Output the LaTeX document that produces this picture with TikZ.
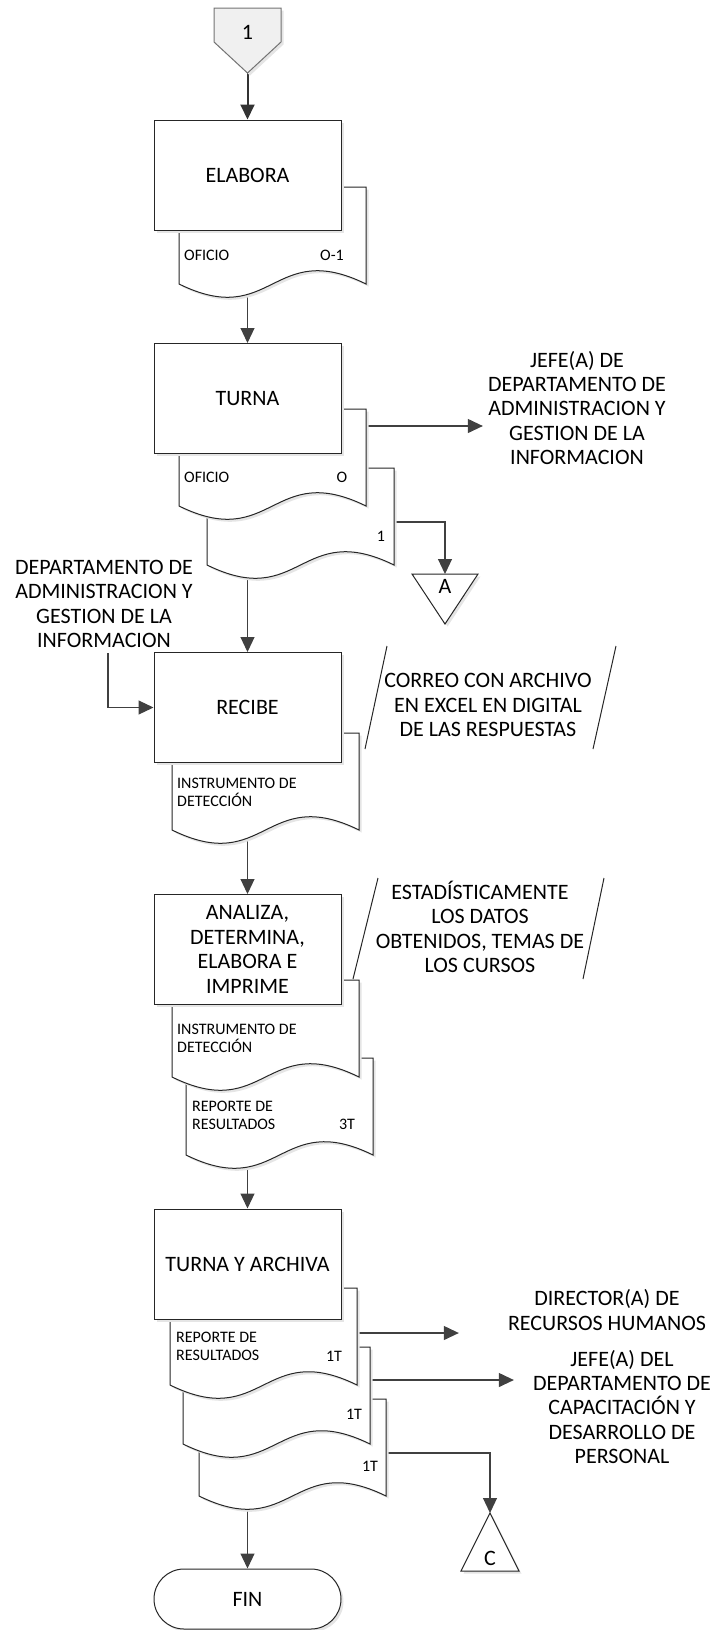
\documentclass[tikz,border=0pt]{standalone}
\usepackage{fontspec}
\setmainfont{Carlito}
\usetikzlibrary{calc, arrows.meta, shadows, backgrounds}

\newcommand{\bigtxt}{\fontsize{22}{24.4}\selectfont}
\newcommand{\smalltxt}{\fontsize{16}{18}\selectfont}
% sheet with wavy bottom, drawn round an empty node
\newcommand{\docsheet}[1]{%
  \draw[docline] (#1.north west) -- (#1.north east) -- (#1.south east)
    .. controls ($(#1.south)+(0,-46)$) and ($(#1.south)+(0,46)$) .. (#1.south west) -- cycle;}

\tikzset{
  softshadow/.style={drop shadow={shadow xshift=2.5pt, shadow yshift=-2.5pt, draw=none, fill=black!10, opacity=1}},
  proc/.style={draw=black!85, fill=white, line width=1pt, minimum width=187pt, minimum height=110pt,
    align=center, font=\bigtxt, softshadow},
  term/.style={proc, rounded corners=30pt, minimum height=60pt},
  docarea/.style={minimum width=187pt, minimum height=97pt, inner sep=0pt, outer sep=0pt},
  docline/.style={draw=black!85, fill=white, line width=1pt, softshadow},
  doctext/.style={font=\smalltxt, inner sep=0pt, align=left},
  bigtext/.style={font=\bigtxt, align=center, inner sep=5pt},
  flow/.style={draw=black!75, line width=1.1pt, -{Triangle[length=15pt,width=14pt]}},
  offpage/.style={draw=black!85, fill=white, line width=1pt, softshadow},
  slash/.style={draw=black!85, line width=1pt}
}

\begin{document}
\begin{tikzpicture}[x=1pt, y=-1pt]
\useasboundingbox (0,0) rectangle (715,1630);

% off-page connector
\draw[offpage, fill=black!6, draw=black!55] (214,8) -- (281,8) -- (281,42) -- (247.5,73) -- (214,42) -- cycle;
\node[bigtext] (pageOne) at (247.5,32) {1};
\coordinate (pageOneTip) at (247.5,73);

% process boxes
\node[proc] (elabora) at (247.5,175) {ELABORA};
\node[proc] (turna) at (247.5,398.5) {TURNA};
\node[proc] (recibe) at (247.5,707.5) {RECIBE};
\node[proc] (analiza) at (247.5,949.5) {ANALIZA,\\DETERMINA,\\ELABORA E\\IMPRIME};
\node[proc] (archiva) at (247.5,1264) {TURNA Y ARCHIVA};
\node[term] (fin) at (247.5,1599) {FIN};

% document sheets
\node[docarea, anchor=north west] (dOficio) at (179,187) {};
\node[docarea, anchor=north west] (dTurOrig) at (179,409) {};
\node[docarea, anchor=north west] (dTurCopy) at (207,468) {};
\node[docarea, anchor=north west] (dRecibe) at (172,733) {};
\node[docarea, anchor=north west] (dAnaInst) at (172,980) {};
\node[docarea, anchor=north west] (dAnaRep) at (186,1058) {};
\node[docarea, anchor=north west] (dArc1) at (170,1288) {};
\node[docarea, anchor=north west] (dArc2) at (183,1347) {};
\node[docarea, anchor=north west] (dArc3) at (199,1399) {};

\node[doctext, anchor=west] (oficioA) at (184,255) {OFICIO};
\node[doctext] (oficioAnum) at (332,255) {O-1};
\node[doctext, anchor=west] (oficioB) at (184,477) {OFICIO};
\node[doctext] (oficioBnum) at (342,477) {O};
\node[doctext] (oficioCnum) at (381,536) {1};
\node[doctext, anchor=west] (instA) at (177,792) {INSTRUMENTO DE\\DETECCIÓN};
\node[doctext, anchor=west] (instB) at (177,1038) {INSTRUMENTO DE\\DETECCIÓN};
\node[doctext, anchor=west] (repA) at (192,1115) {REPORTE DE\\RESULTADOS};
\node[doctext] (repAnum) at (347,1124) {3T};
\node[doctext, anchor=west] (repB) at (176,1346.5) {REPORTE DE\\RESULTADOS};
\node[doctext] (repBnum) at (334,1356) {1T};
\node[doctext] (repCnum) at (354,1414) {1T};
\node[doctext] (repDnum) at (370,1466) {1T};

% outside texts
\node[bigtext] (jefeAdm) at (577,408) {JEFE(A) DE\\DEPARTAMENTO DE\\ADMINISTRACION Y\\GESTION DE LA\\INFORMACION};
\node[bigtext] (deptAdm) at (104,604) {DEPARTAMENTO DE\\ADMINISTRACION Y\\GESTION DE LA\\INFORMACION};
\node[bigtext] (correo) at (488,705) {CORREO CON ARCHIVO\\EN EXCEL EN DIGITAL\\DE LAS RESPUESTAS};
\node[bigtext] (estad) at (480,927) {ESTADÍSTICAMENTE\\LOS DATOS\\OBTENIDOS, TEMAS DE\\LOS CURSOS};
\node[bigtext] (dirRH) at (607,1310) {DIRECTOR(A) DE\\RECURSOS HUMANOS};
\node[bigtext] (jefeCap) at (622,1407) {JEFE(A) DEL\\DEPARTAMENTO DE\\CAPACITACIÓN Y\\DESARROLLO DE\\PERSONAL};

\draw[slash] (387,646) -- (365,749);
\draw[slash] (616,646) -- (593,749);
\draw[slash] (378,878) -- (353,979);
\draw[slash] (604,878) -- (583,979);

% triangles A and C
\draw[offpage] (412,574) -- (478,574) -- (445,624) -- cycle;
\coordinate (aTop) at (445,574);
\node[bigtext] (offA) at (445,586) {A};
\draw[offpage] (490,1513) -- (519,1571) -- (461,1571) -- cycle;
\coordinate (cTop) at (490,1513);
\node[bigtext] (offC) at (490,1558) {C};

\begin{scope}[on background layer]
  \draw[flow, line width=2pt, draw=black!80] (pageOneTip) -- (elabora);
  \draw[flow] (elabora) -- (turna);
  \draw[flow] (turna) -- (recibe);
  \draw[flow] (recibe) -- (analiza);
  \draw[flow] (analiza) -- (archiva);
  \draw[flow] (archiva) -- (fin);
  \draw[flow] ([xshift=4pt]deptAdm.south) |- (recibe.west);
  \draw[flow] ([yshift=-17pt]dTurOrig.north east) coordinate (toJefe) -- (toJefe -| jefeAdm.west);
  \draw[flow] ([yshift=-54pt]dTurCopy.north east) -| (aTop);
  \draw[flow] ([yshift=-45pt]dArc1.north east) coordinate (toDir) -- ($(toDir -| dirRH.west)+(-44,0)$);
  \draw[flow] ([yshift=-33pt]dArc2.north east) coordinate (toCap) -- ($(toCap -| jefeCap.west)+(-14,0)$);
  \draw[flow] ([yshift=-54pt]dArc3.north east) -| (cTop);
  \docsheet{dOficio}
  \docsheet{dTurCopy}
  \docsheet{dTurOrig}
  \docsheet{dRecibe}
  \docsheet{dAnaRep}
  \docsheet{dAnaInst}
  \docsheet{dArc3}
  \docsheet{dArc2}
  \docsheet{dArc1}
\end{scope}
\end{tikzpicture}
\end{document}
